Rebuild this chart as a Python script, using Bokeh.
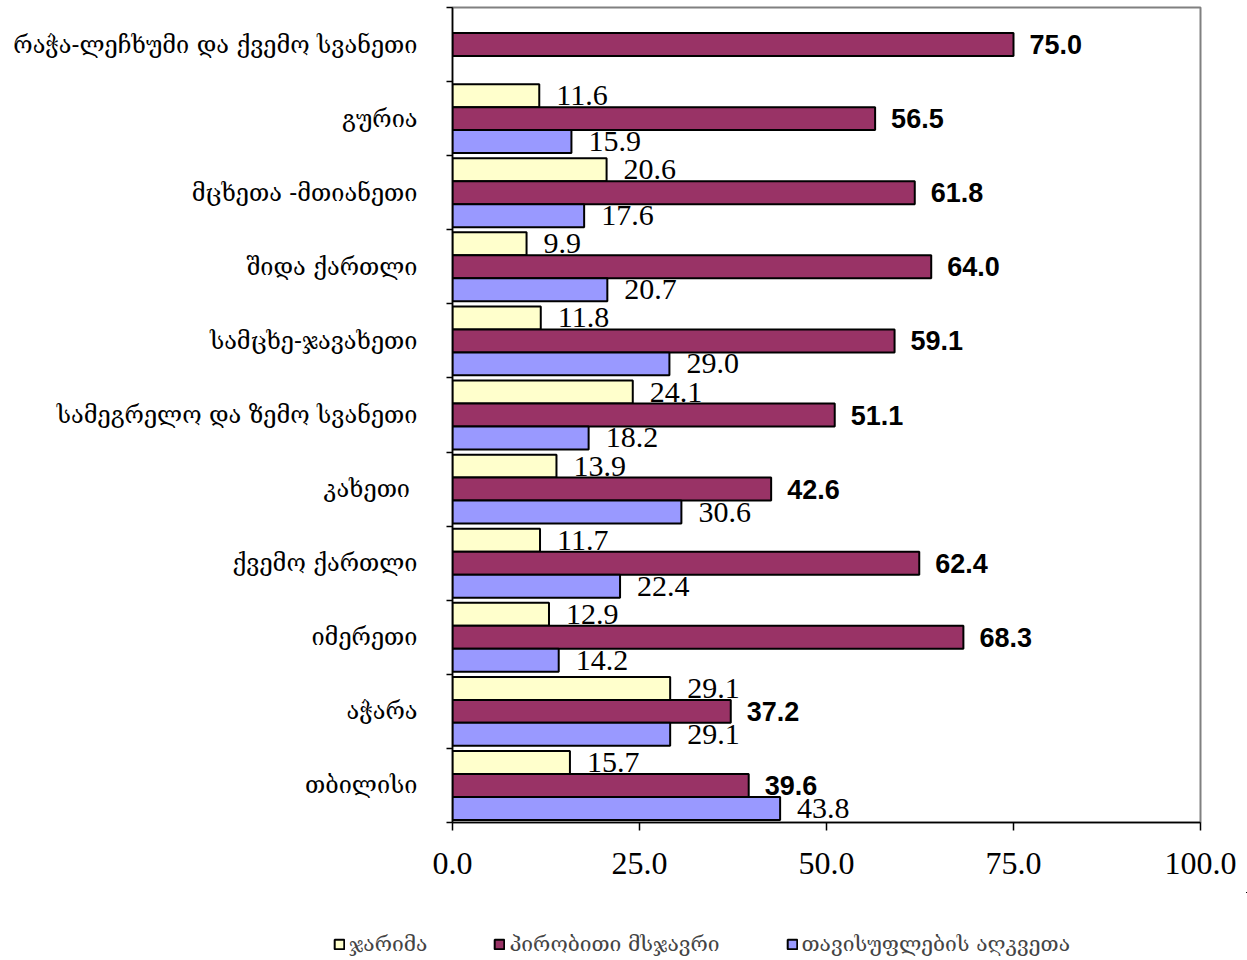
import numpy as np
from bokeh.plotting import figure
from bokeh.layouts import column, row
from bokeh.models import ColumnDataSource, Range1d, FixedTicker, Legend, LegendItem, Spacer
from bokeh.core.properties import value
from bokeh.embed import file_html
from bokeh.resources import INLINE

# ---- data (top of chart first) ----
regions = [
    "რაჭა-ლეჩხუმი და ქვემო სვანეთი",
    "გურია",
    "მცხეთა -მთიანეთი",
    "შიდა ქართლი",
    "სამცხე-ჯავახეთი",
    "სამეგრელო და ზემო სვანეთი",
    "კახეთი ",
    "ქვემო ქართლი",
    "იმერეთი",
    "აჭარა",
    "თბილისი",
]
fine = [None, 11.6, 20.6, 9.9, 11.8, 24.1, 13.9, 11.7, 12.9, 29.1, 15.7]
probation = [75.0, 56.5, 61.8, 64.0, 59.1, 51.1, 42.6, 62.4, 68.3, 37.2, 39.6]
prison = [None, 15.9, 17.6, 20.7, 29.0, 18.2, 30.6, 22.4, 14.2, 29.1, 43.8]
series_names = ["ჯარიმა", "პირობითი მსჯავრი", "თავისუფლების აღკვეთა"]
x_ticks = [0, 25, 50, 75, 100]

# ---- styles ----
colors = ["#FFFFCC", "#993366", "#9999FF"]
offsets = [0.31, 0.0, -0.31]
bar_h = 0.31
label_fonts = ["Liberation Serif", "Liberation Sans", "Liberation Serif"]
label_styles = ["normal", "bold", "normal"]
label_sizes = ["30px", "27px", "30px"]
label_offsets = [17, 16, 17]
geo_font = "DejaVu Serif"

n = len(regions)
centers = np.array([n - 1 - i + 0.5 for i in range(n)])

p = figure(width=1247, height=892, x_range=Range1d(0, 100), y_range=Range1d(0, n),
           output_backend="svg", toolbar_location=None,
           min_border_left=452, min_border_right=47, min_border_top=7, min_border_bottom=70)
p.grid.visible = False
p.background_fill_color = "white"
p.border_fill_color = "white"
p.outline_line_color = "#808080"
p.outline_line_width = 2

# x axis
xa = p.xaxis[0]
xa.ticker = FixedTicker(ticks=x_ticks, minor_ticks=[])
xa.major_label_overrides = {t: f"{t:.1f}" for t in x_ticks}
xa.major_label_text_font = "Liberation Serif"
xa.major_label_text_font_size = "32px"
xa.major_label_text_color = "black"
xa.major_tick_out = 8
xa.major_tick_in = 0
xa.major_label_standoff = 22
xa.axis_line_color = "black"
xa.axis_line_width = 1.5
xa.major_tick_line_color = "black"
xa.major_tick_line_width = 1.5

# y axis: labels at centers, ticks at boundaries
ya = p.yaxis[0]
ya.ticker = FixedTicker(ticks=list(centers), minor_ticks=list(range(n + 1)))
ya.major_label_overrides = {float(c): r for c, r in zip(centers, regions)}
ya.major_tick_line_color = None
ya.major_tick_out = 0
ya.major_tick_in = 0
ya.minor_tick_out = 6
ya.minor_tick_in = 0
ya.minor_tick_line_color = "black"
ya.minor_tick_line_width = 1.5
ya.major_label_standoff = 29
ya.major_label_text_font = geo_font
ya.major_label_text_font_size = "23.5px"
ya.major_label_text_color = "black"
ya.axis_line_color = "black"
ya.axis_line_width = 1.5

sources = []
for k, vals in enumerate([fine, probation, prison]):
    ys, xs, labs = [], [], []
    for c, v in zip(centers, vals):
        if v is None:
            continue
        ys.append(c + offsets[k])
        xs.append(v)
        labs.append(f"{v:.1f}")
    src = ColumnDataSource(dict(y=ys, right=xs, label=labs))
    sources.append(src)
    p.hbar(y="y", right="right", left=0, height=bar_h, source=src,
           fill_color=colors[k], line_color="black", line_width=2)
    p.text(x="right", y="y", text="label", source=src, x_offset=label_offsets[k],
           text_baseline="middle", text_align="left",
           text_font=value(label_fonts[k]), text_font_style=label_styles[k],
           text_font_size=label_sizes[k], text_color="black")

# ---- legend strip (separate figure below the chart; its view range hides the bars) ----
p2 = figure(width=914, height=68, x_range=Range1d(-2, -1), y_range=Range1d(-2, -1),
            output_backend="svg", toolbar_location=None,
            x_axis_location=None, y_axis_location=None,
            min_border_left=0, min_border_right=0, min_border_top=0, min_border_bottom=0)
p2.grid.visible = False
p2.outline_line_color = None
p2.background_fill_color = "white"
p2.border_fill_color = "white"
items = []
for k, name in enumerate(series_names):
    r = p2.hbar(y="y", right="right", left=0, height=bar_h, source=sources[k],
                fill_color=colors[k], line_color="black", line_width=2)
    items.append(LegendItem(label=name, renderers=[r]))
legend = Legend(items=items, orientation="horizontal", location=(0, 4),
                glyph_width=12, glyph_height=12, label_standoff=4, spacing=66,
                padding=0, margin=0, border_line_color=None, background_fill_alpha=0,
                label_text_font=geo_font, label_text_font_size="21px", label_height=22)
p2.add_layout(legend)

layout = column(p, row(Spacer(width=333, height=68), p2, spacing=0), spacing=0)
open("out.html", "w").write(file_html(layout, INLINE))
